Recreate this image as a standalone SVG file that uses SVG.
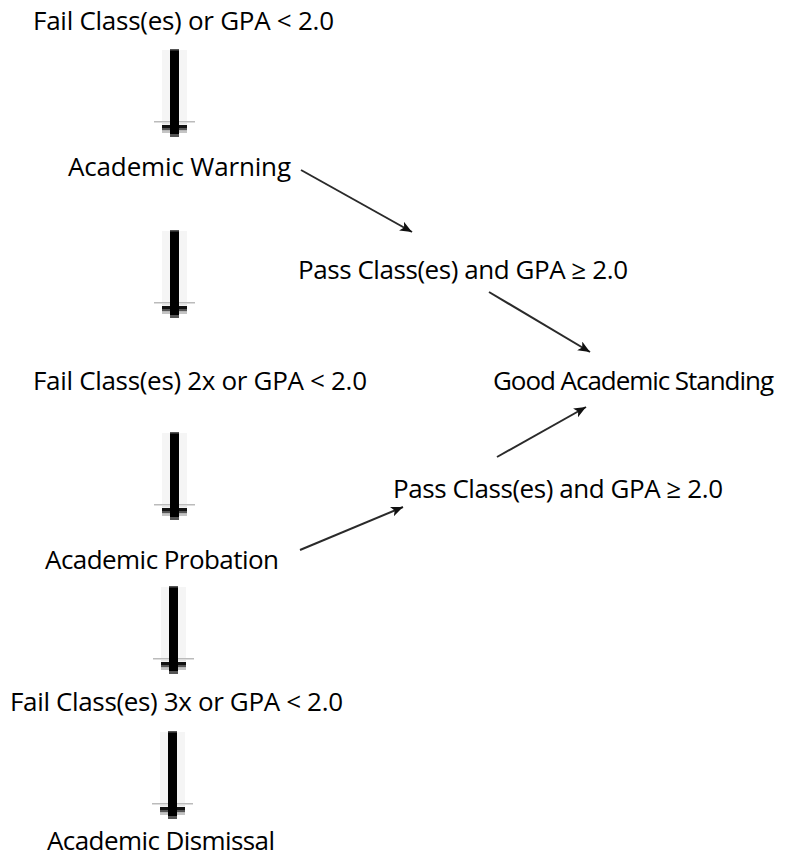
<svg xmlns="http://www.w3.org/2000/svg" xmlns:xlink="http://www.w3.org/1999/xlink" width="787" height="858" viewBox="0 0 787 858">
<style>
  text { font-family: "Open Sans", "Liberation Sans", sans-serif; font-size: 26px; fill: #000; }
  .diag { stroke: #2a2a2a; stroke-width: 2; fill: none; marker-end: url(#head); }
</style>
<defs>
  <marker id="head" markerUnits="userSpaceOnUse" markerWidth="14" markerHeight="12" refX="12" refY="5" orient="auto">
    <path d="M0,0 L12,5 L0,10 L3,5 Z" fill="#111"/>
  </marker>
  <g id="varrow">
    <rect x="-12.5" y="1" width="25" height="71" fill="#f5f5f5"/>
    <rect x="-20.5" y="72" width="41" height="1.5" fill="#bbb"/>
    <rect x="-12.5" y="74" width="25" height="1.5" fill="#e6e6e6"/>
    <rect x="-12.5" y="76" width="25" height="3" fill="#111"/>
    <rect x="-12.5" y="79" width="25" height="2.5" fill="#555"/>
    <rect x="-12.5" y="81.5" width="25" height="2.5" fill="#c4c4c4"/>
    <rect x="-4.5" y="0" width="9" height="88" fill="#000"/>
    <rect x="-4.5" y="0" width="9" height="1.5" fill="#555"/>
    <rect x="-4.5" y="85" width="9" height="3" fill="#555"/>
  </g>
</defs>

<g id="connectors">
  <use xlink:href="#varrow" href="#varrow" x="174.5" y="49"/>
  <use xlink:href="#varrow" href="#varrow" x="174.5" y="230"/>
  <use xlink:href="#varrow" href="#varrow" x="174.5" y="432"/>
  <use xlink:href="#varrow" href="#varrow" x="173.5" y="586"/>
  <use xlink:href="#varrow" href="#varrow" x="172.5" y="731"/>
  <line class="diag" x1="301" y1="170" x2="412" y2="232"/>
  <line class="diag" x1="489" y1="292" x2="590" y2="352"/>
  <line class="diag" x1="300" y1="550" x2="403" y2="507"/>
  <line class="diag" x1="497" y1="457" x2="586" y2="407"/>
</g>

<g id="fail1"><text x="33" y="30" textLength="301">Fail Class(es) or GPA &lt; 2.0</text></g>
<g id="warning"><text x="68" y="176" textLength="223">Academic Warning</text></g>
<g id="pass1"><text x="298" y="279" textLength="330">Pass Class(es) and GPA ≥ 2.0</text></g>
<g id="fail2"><text x="33" y="390" textLength="334">Fail Class(es) 2x or GPA &lt; 2.0</text></g>
<g id="good"><text x="493" y="390" textLength="281">Good Academic Standing</text></g>
<g id="pass2"><text x="393" y="498" textLength="330">Pass Class(es) and GPA ≥ 2.0</text></g>
<g id="probation"><text x="45" y="569" textLength="234">Academic Probation</text></g>
<g id="fail3"><text x="10" y="711" textLength="333">Fail Class(es) 3x or GPA &lt; 2.0</text></g>
<g id="dismissal"><text x="47" y="850" textLength="228">Academic Dismissal</text></g>
</svg>
